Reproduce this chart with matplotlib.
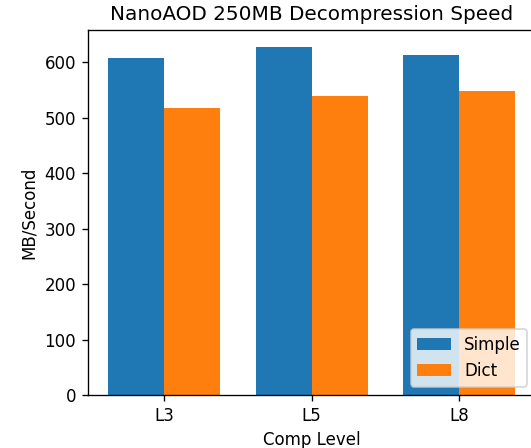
import numpy as np
import matplotlib
matplotlib.use("Agg")
import matplotlib.pyplot as plt

# data
levels = ["L3", "L5", "L8"]
simple = [608, 627, 614]
dict_vals = [517, 539, 549]

x = np.arange(len(levels))
width = 0.38

fig = plt.figure(figsize=(531 / 120, 448 / 120), dpi=120)
ax = fig.add_axes([0.165, 0.118, 0.844, 0.815])

ax.bar(x - width / 2, simple, width, label="Simple", color="#1f77b4")
ax.bar(x + width / 2, dict_vals, width, label="Dict", color="#ff7f0e")

ax.set_xticks(x)
ax.set_xticklabels(levels)
ax.set_xlabel("Comp Level")
ax.set_ylabel("MB/Second")
ax.set_title("NanoAOD 250MB Decompression Speed")
ax.legend(loc="lower right")

fig.savefig("out.png", dpi=120)
